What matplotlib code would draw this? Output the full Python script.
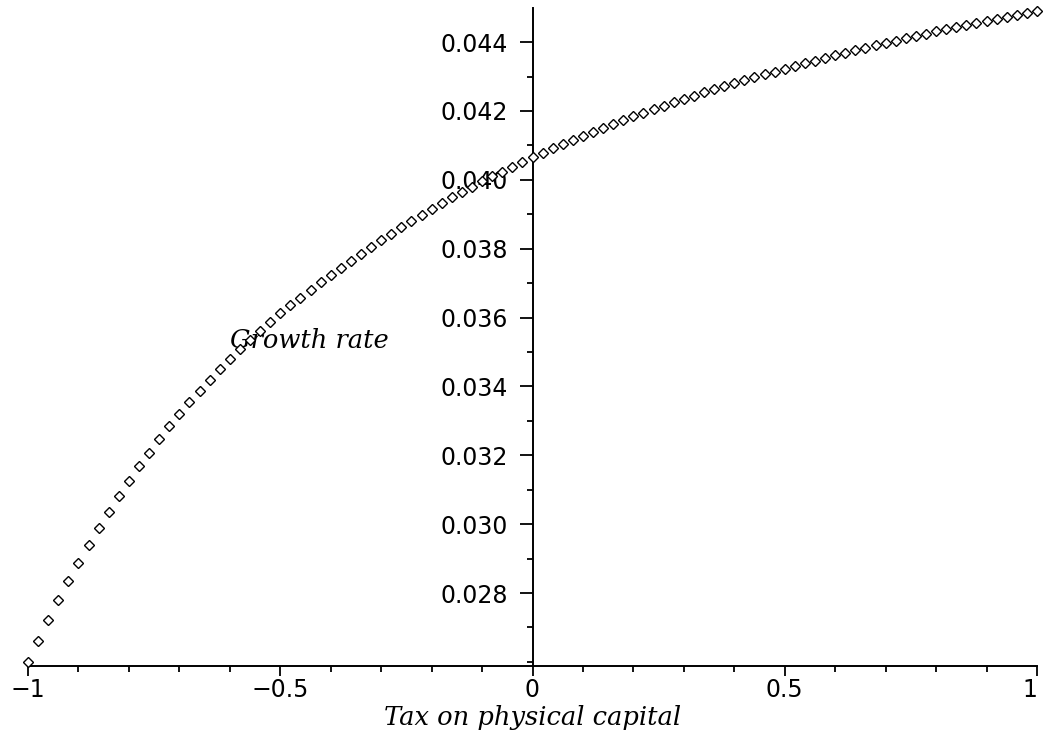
import numpy as np
import matplotlib
matplotlib.use("Agg")
import matplotlib.pyplot as plt
from matplotlib.ticker import MultipleLocator, FixedLocator

# tax on physical capital (x) and growth rate (y)
tax = [-1.00, -0.98, -0.96, -0.94, -0.92, -0.90, -0.88, -0.86, -0.84, -0.82,
       -0.80, -0.78, -0.76, -0.74, -0.72, -0.70, -0.68, -0.66, -0.64, -0.62,
       -0.60, -0.58, -0.56, -0.54, -0.52, -0.50, -0.48, -0.46, -0.44, -0.42,
       -0.40, -0.38, -0.36, -0.34, -0.32, -0.30, -0.28, -0.26, -0.24, -0.22,
       -0.20, -0.18, -0.16, -0.14, -0.12, -0.10, -0.08, -0.06, -0.04, -0.02,
       0.00, 0.02, 0.04, 0.06, 0.08, 0.10, 0.12, 0.14, 0.16, 0.18,
       0.20, 0.22, 0.24, 0.26, 0.28, 0.30, 0.32, 0.34, 0.36, 0.38,
       0.40, 0.42, 0.44, 0.46, 0.48, 0.50, 0.52, 0.54, 0.56, 0.58,
       0.60, 0.62, 0.64, 0.66, 0.68, 0.70, 0.72, 0.74, 0.76, 0.78,
       0.80, 0.82, 0.84, 0.86, 0.88, 0.90, 0.92, 0.94, 0.96, 0.98,
       1.00]
growth = [0.02600, 0.02662, 0.02722, 0.02779, 0.02835, 0.02888, 0.02939, 0.02989, 0.03036, 0.03082,
          0.03126, 0.03168, 0.03208, 0.03247, 0.03285, 0.03321, 0.03355, 0.03388, 0.03420, 0.03451,
          0.03480, 0.03508, 0.03535, 0.03562, 0.03587, 0.03612, 0.03635, 0.03658, 0.03680, 0.03702,
          0.03724, 0.03745, 0.03765, 0.03785, 0.03805, 0.03825, 0.03844, 0.03862, 0.03880, 0.03898,
          0.03916, 0.03932, 0.03949, 0.03965, 0.03980, 0.03996, 0.04010, 0.04024, 0.04038, 0.04052,
          0.04066, 0.04078, 0.04091, 0.04103, 0.04116, 0.04128, 0.04139, 0.04151, 0.04162, 0.04173,
          0.04184, 0.04194, 0.04205, 0.04215, 0.04225, 0.04235, 0.04244, 0.04254, 0.04263, 0.04272,
          0.04281, 0.04289, 0.04298, 0.04306, 0.04314, 0.04323, 0.04331, 0.04339, 0.04346, 0.04354,
          0.04362, 0.04369, 0.04376, 0.04383, 0.04391, 0.04398, 0.04404, 0.04411, 0.04418, 0.04424,
          0.04431, 0.04437, 0.04443, 0.04449, 0.04456, 0.04462, 0.04468, 0.04473, 0.04479, 0.04485,
          0.04491]

xticks = [-1, -0.5, 0, 0.5, 1]
xtick_labels = ['\u22121', '\u22120.5', '0', '0.5', '1']
yticks = [0.028, 0.030, 0.032, 0.034, 0.036, 0.038, 0.040, 0.042, 0.044]
ytick_labels = ['0.028', '0.030', '0.032', '0.034', '0.036', '0.038', '0.040', '0.042', '0.044']

fig = plt.figure(figsize=(10.46, 7.38), dpi=100)
ax = fig.add_axes([28/1046, 72/738, 1009/1046, 658/738])

ax.plot(tax, growth, linestyle='none', marker='D', markersize=5.3,
        markerfacecolor='white', markeredgecolor='black', markeredgewidth=1.0,
        zorder=5, clip_on=False)

ax.set_xlim(-1, 1)
ax.set_ylim(0.02588, 0.04499)

# Maple style axes: y axis through x=0, x axis along the bottom
ax.spines['left'].set_position(('data', 0))
ax.spines['top'].set_visible(False)
ax.spines['right'].set_visible(False)
for s in ['left', 'bottom']:
    ax.spines[s].set_linewidth(1.4)

ax.xaxis.set_major_locator(FixedLocator(xticks))
ax.set_xticklabels(xtick_labels)
ax.xaxis.set_minor_locator(MultipleLocator(0.1))
ax.yaxis.set_major_locator(FixedLocator(yticks))
ax.set_yticklabels(ytick_labels)
ax.yaxis.set_minor_locator(MultipleLocator(0.001))

ax.tick_params(axis='x', which='major', direction='out', length=7, width=1.3, pad=1.5, labelsize=17)
ax.tick_params(axis='x', which='minor', direction='out', length=4, width=1.3)
ax.tick_params(axis='y', which='major', direction='out', length=9.5, width=1.3, pad=8, labelsize=17)
ax.tick_params(axis='y', which='minor', direction='out', length=4, width=1.3)

lbls = ax.get_xticklabels()
lbls[-1].set_ha('right')

ax.text(0.5, -0.079, 'Tax on physical capital', transform=ax.transAxes,
        ha='center', va='center', family='DejaVu Serif', style='italic', fontsize=18.5)
ax.text(0.2, 0.4954, 'Growth rate', transform=ax.transAxes,
        ha='left', va='center', family='DejaVu Serif', style='italic', fontsize=18.5)

fig.savefig('out.png', dpi=100)
